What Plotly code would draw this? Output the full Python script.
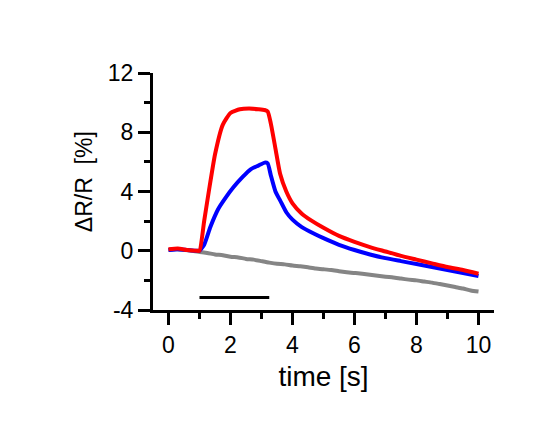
import plotly.graph_objects as go

# Red trace
red_t = [0, 0.3, 0.6, 0.9, 1.0, 1.15, 1.3, 1.5, 1.75, 2.0, 2.3, 2.6, 2.9, 3.1, 3.2, 3.3, 3.45,
         3.6, 3.8, 4.0, 4.3, 4.6, 5.0, 5.5, 6.0, 6.5, 7.0, 7.5, 8.0, 8.5, 9.0, 9.5, 10.0]
red_v = [0.1, 0.15, 0.05, 0.0, 0.0, 2.0, 4.0, 6.5, 8.5, 9.3, 9.55, 9.6, 9.55, 9.5, 9.4, 8.6, 6.9,
         5.2, 4.0, 3.2, 2.5, 2.05, 1.55, 1.0, 0.6, 0.25, -0.05, -0.35, -0.6, -0.85, -1.1, -1.3, -1.55]

# Blue trace
blue_t = [0, 0.3, 0.6, 0.9, 1.0, 1.15, 1.35, 1.6, 1.85, 2.1, 2.4, 2.65, 2.9, 3.1, 3.2, 3.3, 3.45,
          3.6, 3.8, 4.0, 4.3, 4.7, 5.0, 5.5, 6.0, 6.5, 7.0, 7.5, 8.0, 8.5, 9.0, 9.5, 10.0]
blue_v = [0.05, 0.1, 0.05, 0.0, 0.0, 0.4, 1.6, 2.8, 3.6, 4.3, 5.0, 5.5, 5.75, 5.95, 5.9, 5.1, 4.0,
          3.4, 2.6, 2.1, 1.6, 1.15, 0.85, 0.4, 0.05, -0.25, -0.5, -0.7, -0.9, -1.1, -1.3, -1.5, -1.7]

# Gray (control) trace
gray_t = [0, 0.25, 0.5, 0.75, 1.0, 1.25, 1.5, 1.75, 2.0, 2.25, 2.5, 2.75, 3.0, 3.25, 3.5, 3.75,
          4.0, 4.25, 4.5, 4.75, 5.0, 5.25, 5.5, 5.75, 6.0, 6.25, 6.5, 6.75, 7.0, 7.25, 7.5, 7.75,
          8.0, 8.25, 8.5, 8.75, 9.0, 9.25, 9.5, 9.75, 10.0]
gray_v = [0.05, 0.1, 0.05, 0.0, -0.08, -0.15, -0.25, -0.3, -0.4, -0.45, -0.55, -0.6, -0.7, -0.8,
          -0.88, -0.92, -1.0, -1.05, -1.12, -1.2, -1.25, -1.3, -1.38, -1.45, -1.5, -1.55, -1.62,
          -1.68, -1.75, -1.8, -1.88, -1.95, -2.0, -2.08, -2.15, -2.25, -2.35, -2.45, -2.55, -2.68,
          -2.75]

# Stimulus bar
stim_t = [1.0, 3.25]
stim_v = [-3.15, -3.15]

# Tick labels
x_tickvals = [0, 2, 4, 6, 8, 10]
x_ticktext = ["0", "2", "4", "6", "8", "10"]
y_tickvals = [-4, 0, 4, 8, 12]
y_ticktext = ["-4", "0", "4", "8", "12"]

FONT = "Liberation Sans, Arial, sans-serif"

fig = go.Figure()
fig.add_trace(go.Scatter(x=gray_t, y=gray_v, mode="lines",
                         line=dict(color="#858585", width=4, shape="spline", smoothing=0.5)))
fig.add_trace(go.Scatter(x=blue_t, y=blue_v, mode="lines",
                         line=dict(color="#0000ff", width=4, shape="spline", smoothing=0.5)))
fig.add_trace(go.Scatter(x=red_t, y=red_v, mode="lines",
                         line=dict(color="#ff0000", width=4, shape="spline", smoothing=0.5)))
fig.add_trace(go.Scatter(x=stim_t, y=stim_v, mode="lines",
                         line=dict(color="black", width=3)))

fig.update_layout(
    width=553, height=440,
    margin=dict(l=153, r=59, t=73, b=130),
    paper_bgcolor="white", plot_bgcolor="white",
    showlegend=False,
    font=dict(family=FONT, size=23, color="black"),
)
fig.update_xaxes(
    range=[-0.5, 10.5], tickmode="array", tickvals=x_tickvals, ticktext=x_ticktext,
    showline=True, linecolor="black", linewidth=3,
    ticks="outside", ticklen=12, tickwidth=3, tickcolor="black",
    minor=dict(tick0=0, dtick=1, ticks="outside", ticklen=6, tickwidth=3, tickcolor="black",
               showgrid=False),
    showgrid=False, zeroline=False,
    title=dict(text="time [s]", standoff=10),
)
fig.update_yaxes(
    range=[-4, 12], tickmode="array", tickvals=y_tickvals, ticktext=y_ticktext,
    showline=True, linecolor="black", linewidth=3,
    ticks="outside", ticklen=12, tickwidth=3, tickcolor="black",
    minor=dict(tick0=0, dtick=2, ticks="outside", ticklen=6, tickwidth=3, tickcolor="black",
               showgrid=False),
    showgrid=False, zeroline=False,
)
fig.add_annotation(
    text="\u0394R/R\u00a0\u00a0[%]", textangle=-90, showarrow=False,
    xref="paper", yref="paper", x=-0.202, y=0.54, xanchor="center", yanchor="middle",
    font=dict(family=FONT, size=23, color="black"),
)

fig.write_html("out.html")
